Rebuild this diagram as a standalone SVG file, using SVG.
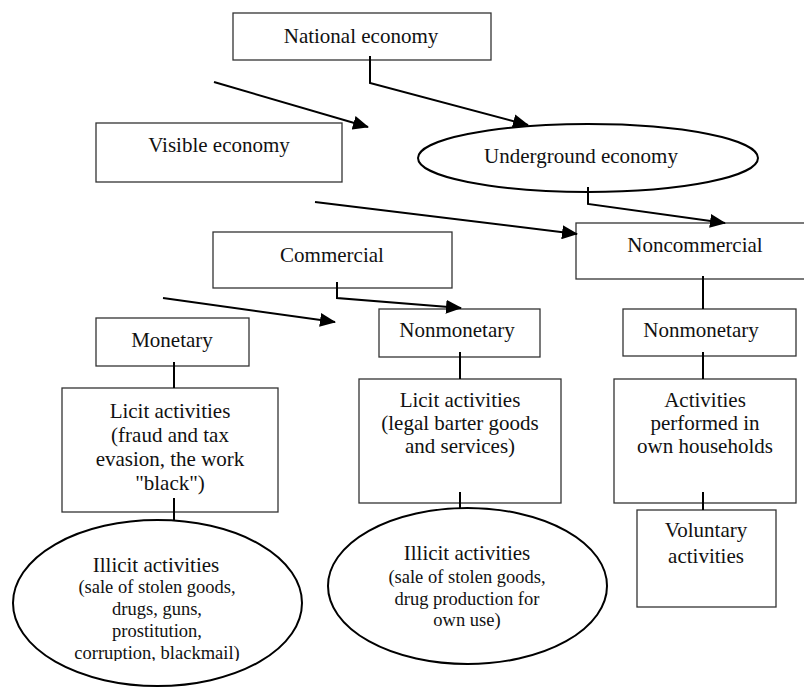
<svg xmlns="http://www.w3.org/2000/svg" width="804" height="688" viewBox="0 0 804 688">
<style>
.box{fill:#fff;stroke:#333;stroke-width:1.3}
.ell{fill:#fff;stroke:#000;stroke-width:2}
.t{font-family:'Liberation Serif','DejaVu Serif',serif;font-size:21px;fill:#111;text-anchor:middle}
.s{font-family:'Liberation Serif','DejaVu Serif',serif;font-size:18.5px;fill:#111;text-anchor:middle}
.c{fill:none;stroke:#000;stroke-width:2}
</style>
<defs>
<marker id="ah" markerUnits="userSpaceOnUse" markerWidth="16" markerHeight="14" viewBox="0 0 16 14" refX="15" refY="7" orient="auto">
<path d="M0,0 L16,7 L0,14 Z" fill="#000"/>
</marker>
<clipPath id="clip1"><rect x="0" y="0" width="804" height="661"/></clipPath>
</defs>
<g id="national"><rect class="box" x="233" y="13" width="258" height="47"/><text class="t" x="361" y="43">National economy</text></g>
<g id="visible"><rect class="box" x="96" y="123" width="246" height="59"/><text class="t" x="219" y="152">Visible economy</text></g>
<g id="underground"><ellipse class="ell" cx="588" cy="158" rx="170" ry="34"/><text class="t" x="581" y="163">Underground economy</text></g>
<g id="noncommercial"><rect class="box" x="576" y="223" width="240" height="56"/><text class="t" x="695" y="252">Noncommercial</text></g>
<g id="commercial"><rect class="box" x="213" y="232" width="239" height="56"/><text class="t" x="332" y="262">Commercial</text></g>
<g id="monetary"><rect class="box" x="96" y="318" width="153" height="48"/><text class="t" x="172" y="347">Monetary</text></g>
<g id="nonmonetary1"><rect class="box" x="379" y="309" width="161" height="48"/><text class="t" x="457" y="337">Nonmonetary</text></g>
<g id="nonmonetary2"><rect class="box" x="623" y="309" width="173" height="47"/><text class="t" x="701" y="337">Nonmonetary</text></g>
<g id="licit1"><rect class="box" x="62" y="388" width="216" height="124"/>
<text class="t" x="170" y="418">Licit activities</text><text class="t" x="170" y="442">(fraud and tax</text><text class="t" x="170" y="466">evasion, the work</text><text class="t" x="170" y="490">"black")</text></g>
<g id="licit2"><rect class="box" x="359" y="379" width="202" height="124"/>
<text class="t" x="460" y="407">Licit activities</text><text class="t" x="460" y="430">(legal barter goods</text><text class="t" x="460" y="453">and services)</text></g>
<g id="households"><rect class="box" x="614" y="379" width="182" height="124"/>
<text class="t" x="705" y="407">Activities</text><text class="t" x="705" y="430">performed in</text><text class="t" x="705" y="453">own households</text></g>
<g id="voluntary"><rect class="box" x="637" y="510" width="139" height="97"/>
<text class="t" x="706" y="537">Voluntary</text><text class="t" x="706" y="563">activities</text></g>
<g id="illicit1"><ellipse class="ell" cx="157.5" cy="603" rx="144.5" ry="83"/>
<text class="t" x="156" y="572">Illicit activities</text>
<text class="s" x="157" y="593">(sale of stolen goods,</text><text class="s" x="157" y="615">drugs, guns,</text><text class="s" x="157" y="637">prostitution,</text>
<text class="s" x="157" y="659" clip-path="url(#clip1)">corruption, blackmail)</text></g>
<g id="illicit2"><ellipse class="ell" cx="467.5" cy="586" rx="139.5" ry="78"/>
<text class="t" x="467" y="560">Illicit activities</text>
<text class="s" x="467" y="583">(sale of stolen goods,</text><text class="s" x="467" y="605">drug production for</text><text class="s" x="467" y="626">own use)</text></g>
<g id="connectors">
<line class="c" x1="214" y1="82" x2="368" y2="127" marker-end="url(#ah)"/>
<polyline class="c" points="370,56 370,83 528,125" marker-end="url(#ah)"/>
<polyline class="c" points="588,187 588,204 725,223" marker-end="url(#ah)"/>
<line class="c" x1="315" y1="202" x2="577" y2="234" marker-end="url(#ah)"/>
<polyline class="c" points="337,282 337,298 461,308" marker-end="url(#ah)"/>
<line class="c" x1="163" y1="298" x2="335" y2="322" marker-end="url(#ah)"/>
<line class="c" x1="703" y1="276" x2="703" y2="309"/>
<line class="c" x1="174" y1="362" x2="174" y2="388"/>
<line class="c" x1="174" y1="498" x2="174" y2="520"/>
<line class="c" x1="460" y1="352" x2="460" y2="379"/>
<line class="c" x1="460" y1="492" x2="460" y2="508"/>
<line class="c" x1="703" y1="352" x2="703" y2="379"/>
<line class="c" x1="703" y1="492" x2="703" y2="510"/>
</g>
</svg>
